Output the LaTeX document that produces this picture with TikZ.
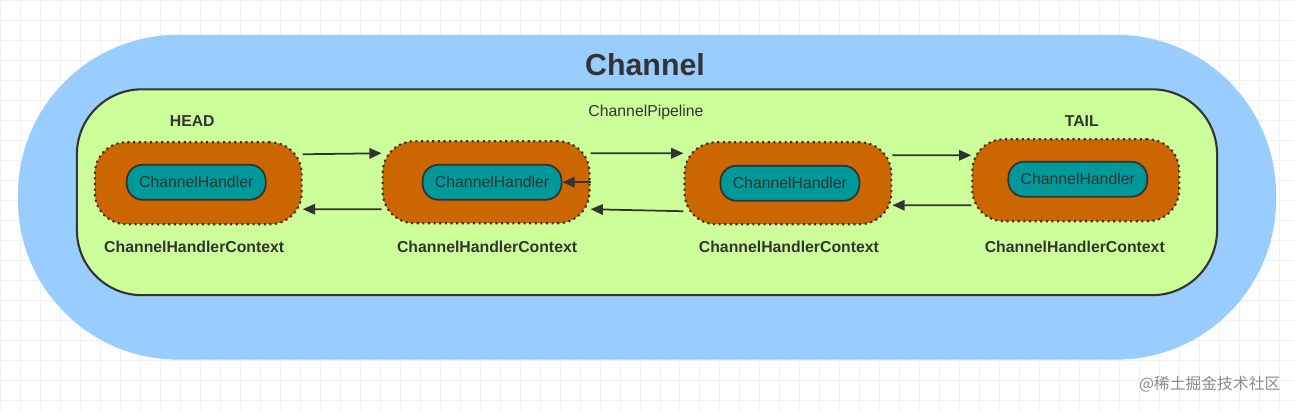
\documentclass[tikz,border=0pt]{standalone}
\usepackage{fontspec}
\setmainfont{Liberation Sans}
\setsansfont{Liberation Sans}
\newfontfamily\cjk{Noto Sans CJK SC}
\usetikzlibrary{positioning,arrows.meta}
\definecolor{chanblue}{HTML}{99CCFF}
\definecolor{pipegreen}{HTML}{CCFF99}
\definecolor{ctxorange}{HTML}{CC6600}
\definecolor{handteal}{HTML}{009999}
\definecolor{linedark}{HTML}{333333}

\begin{document}
\begin{tikzpicture}[
    x=0.02cm, y=-0.02cm,
    >={Triangle[length=7pt,width=6pt]},
    every node/.style={font=\sffamily\small},
    ctx/.style={
        draw=linedark, dotted, line width=1.2pt, fill=ctxorange,
        rounded corners=18pt, minimum width=4.14cm, minimum height=1.64cm
    },
    handler/.style={
        draw=linedark, line width=1pt, fill=handteal, rounded corners=9pt,
        minimum width=2.78cm, minimum height=0.7cm,
        font=\sffamily\small, text=linedark
    },
    caption/.style={font=\sffamily\small\bfseries, text=linedark},
    arr/.style={->, line width=1pt, color=linedark},
]

% === Background ===
\fill[white] (0,0) rectangle (1295,411);
\draw[black!6, step=0.4cm] (0,411) grid (1295,0);
\useasboundingbox (0,0) rectangle (1295,411);

% === Channel ===
\node[fill=chanblue, rounded corners=3.2cm, minimum width=25.18cm,
    minimum height=6.5cm] (channel) at (647,197) {};
\node[font=\sffamily\LARGE\bfseries, text=linedark] (chantitle) at (645,64) {Channel};

% === Pipeline ===
\node[draw=linedark, line width=1.2pt, fill=pipegreen, rounded corners=1.3cm,
    minimum width=22.82cm, minimum height=4.12cm] (pipeline) at (647,192) {};
\node[font=\sffamily\small, text=linedark] (pipetitle) at (646,112) {ChannelPipeline};

% === Contexts ===
\node[ctx] (ctxa) at (198,183) {};
\node[ctx] (ctxb) at (486,182) {};
\node[ctx] (ctxc) at (788,183) {};
\node[ctx] (ctxd) at (1076,180) {};

\node[handler] (handa) at (196,182) {ChannelHandler};
\node[handler] (handb) at (492,182) {ChannelHandler};
\node[handler] (handc) at (790,183) {ChannelHandler};
\node[handler] (handd) at (1078,179) {ChannelHandler};

\foreach \n/\x in {a/194,b/487,c/789,d/1075}
    \node[caption] (lbl\n) at (\x,247) {ChannelHandlerContext};
\node[caption] (head) at (192,121) {HEAD};
\node[caption] (tail) at (1082,121) {TAIL};

% === Arrows ===
\draw[arr] ([yshift=0.58cm]ctxa.east) -- ([yshift=0.58cm]ctxb.west);
\draw[arr] ([yshift=0.58cm]ctxb.east) -- ([yshift=0.6cm]ctxc.west);
\draw[arr] ([yshift=0.56cm]ctxc.east) -- ([yshift=0.5cm]ctxd.west);
\draw[arr] ([yshift=-0.54cm]ctxb.west) -- ([yshift=-0.52cm]ctxa.east);
\draw[arr] ([yshift=-0.56cm]ctxc.west) -- ([yshift=-0.54cm]ctxb.east);
\draw[arr] ([yshift=-0.5cm]ctxd.west) -- ([yshift=-0.44cm]ctxc.east);
\draw[arr] (ctxb.east) -- (handb.east);

% === Watermark ===
\node[font=\cjk\small, text=black!45] (mark) at (1210,384) {@稀土掘金技术社区};

\end{tikzpicture}
\end{document}
